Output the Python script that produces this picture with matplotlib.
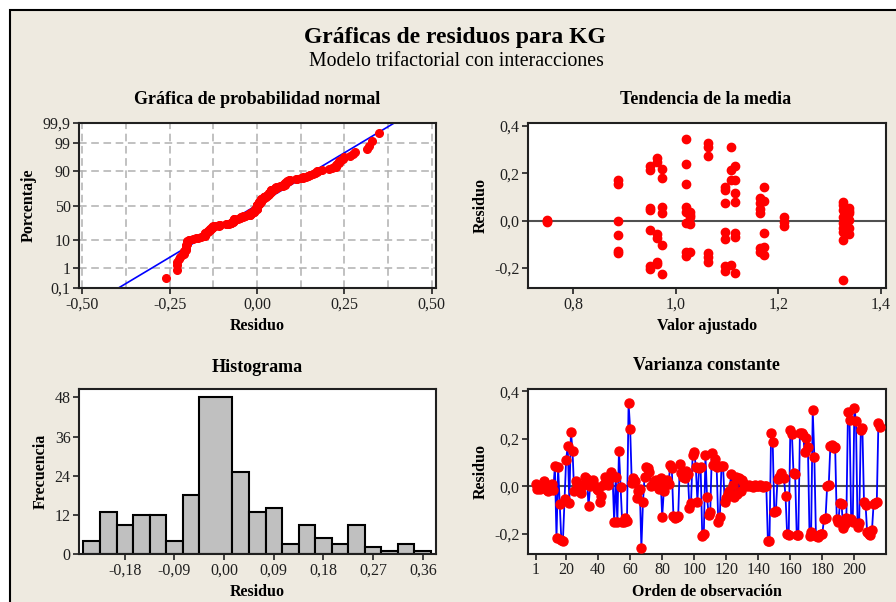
import numpy as np
import matplotlib
matplotlib.use("Agg")
import matplotlib.pyplot as plt
from matplotlib.patches import Rectangle
from statistics import NormalDist

residuos = [
    0.01, -0.01, 0.00, -0.01, -0.005, 0.02, 0.01, -0.015, -0.02, 0.00,
    0.01, -0.015, 0.085, -0.22, 0.08, -0.075, -0.225, -0.23, -0.055, 0.11,
    0.17, -0.07, 0.23, 0.15, -0.02, 0.02, 0.01, -0.02, -0.03, 0.00,
    0.01, 0.04, 0.03, -0.085, 0.00, 0.02, 0.025, 0.00, -0.01, -0.015,
    -0.065, -0.04, 0.005, 0.04, 0.02, 0.005, 0.03, 0.06, 0.045, -0.15,
    0.04, -0.15, 0.15, -0.005, -0.15, -0.15, -0.135, -0.145, 0.35, 0.24,
    0.015, 0.035, 0.02, -0.05, -0.02, -0.01, -0.26, -0.065, 0.04, 0.08,
    0.075, 0.06, 0.00, 0.005, 0.02, 0.025, 0.01, -0.01, 0.035, -0.13,
    -0.02, 0.01, 0.025, 0.01, 0.09, 0.075, -0.125, -0.135, -0.13, -0.125,
    0.095, 0.055, 0.04, 0.035, 0.065, 0.05, -0.09, -0.07, 0.13, 0.145,
    0.08, -0.065, 0.075, 0.08, -0.21, -0.2, 0.13, -0.045, -0.12, -0.11,
    0.14, 0.09, 0.115, 0.08, -0.15, -0.13, 0.085, 0.085, -0.065, -0.05,
    -0.035, -0.02, 0.05, 0.005, -0.045, 0.04, -0.035, 0.035, -0.02, 0.025,
    0.01, 0.005, 0.00, 0.005, 0.00, 0.00, -0.005, 0.005, 0.00, 0.00,
    0.005, 0.00, -0.005, 0.00, 0.00, -0.23, -0.23, 0.225, 0.185, -0.11,
    -0.105, 0.03, 0.04, 0.055, 0.04, 0.035, -0.04, -0.2, -0.205, 0.235,
    0.22, 0.055, 0.05, -0.205, -0.205, 0.225, 0.225, 0.215, 0.145, 0.205,
    0.165, -0.21, -0.195, 0.32, 0.125, -0.21, -0.215, -0.205, -0.2, -0.2,
    -0.14, -0.135, 0.00, 0.005, 0.17, 0.175, 0.16, 0.165, -0.14, -0.15,
    -0.07, -0.075, -0.175, -0.16, -0.135, 0.315, 0.28, -0.14, -0.15, 0.33,
    0.275, -0.17, -0.155, 0.235, 0.245, -0.065, -0.08, -0.195, -0.2, -0.205,
    -0.185, -0.075, -0.07, -0.065, 0.265, 0.25,
]

ajustado = [
    0.749, 0.749, 0.749,
    0.887, 0.887, 0.887, 0.887, 0.887, 0.887,
    0.950, 0.950, 0.950, 0.950, 0.950, 0.950, 0.950,
    0.963, 0.963, 0.963, 0.963, 0.963, 0.963,
    0.974, 0.974, 0.974, 0.974, 0.974, 0.974,
    1.020, 1.020, 1.020, 1.020, 1.020, 1.020, 1.020, 1.020,
    1.028, 1.028, 1.028, 1.028, 1.028,
    1.062, 1.062, 1.062, 1.062, 1.062, 1.062,
    1.096, 1.096, 1.096, 1.096, 1.096, 1.096, 1.096,
    1.108, 1.108, 1.108, 1.108,
    1.116, 1.116, 1.116, 1.116, 1.116, 1.116, 1.116,
    1.164, 1.164, 1.164, 1.164, 1.164, 1.164,
    1.172, 1.172, 1.172, 1.172, 1.172,
    1.212, 1.212, 1.212,
    1.327, 1.327, 1.327, 1.327, 1.327, 1.327, 1.327, 1.327, 1.327,
    1.337, 1.337, 1.337, 1.337, 1.337, 1.337,
]
residuo_ajuste = [
    0.003, -0.005, 0.0,
    0.17, 0.155, 0.0, -0.06, -0.13, -0.138,
    0.23, 0.214, 0.052, 0.045, -0.04, -0.194, -0.205,
    0.267, 0.25, -0.056, -0.075, -0.177, -0.185,
    0.22, 0.179, 0.056, 0.031, -0.103, -0.227,
    0.345, 0.239, 0.154, 0.059, 0.038, -0.008, -0.134, -0.149,
    0.038, 0.017, -0.014, -0.131, 0.025,
    0.327, 0.313, 0.273, -0.135, -0.152, -0.177,
    0.144, 0.13, 0.076, -0.046, -0.079, -0.194, -0.215,
    0.313, 0.214, 0.172, -0.187,
    0.231, 0.172, 0.115, 0.08, -0.054, -0.07, -0.223,
    0.094, 0.073, 0.034, 0.05, -0.117, -0.131,
    0.141, 0.085, -0.054, -0.11, -0.145,
    0.014, -0.004, -0.021,
    0.08, 0.065, 0.045, 0.017, -0.011, -0.03, -0.046, -0.084, -0.25,
    0.052, 0.031, 0.003, -0.032, -0.056, 0.04,
]

# histogram (bar edges and counts as drawn)
hist_bordes = [-0.255, -0.225, -0.195, -0.165, -0.135, -0.105, -0.075, -0.045,
               0.015, 0.045, 0.075, 0.105, 0.135, 0.165, 0.195, 0.225, 0.255,
               0.285, 0.315, 0.345, 0.375]
hist_frec = [4, 13, 9, 12, 12, 4, 18, 48, 25, 13, 14, 3, 9, 5, 3, 9, 2, 1, 3, 1]

W, H = 896, 602
BG = "#EEEAE0"
plt.rcParams["font.family"] = ["Liberation Serif", "DejaVu Serif"]

fig = plt.figure(figsize=(W / 100, H / 100), dpi=100, facecolor="white")
fig.patches.append(Rectangle((10 / W, -0.05), 1.1, 1.05 - 10 / H, transform=fig.transFigure,
                             facecolor=BG, edgecolor="black", lw=1.5, zorder=-1))


def ejes(l, t, r, b):
    ax = fig.add_axes([l / W, 1 - b / H, (r - l) / W, (b - t) / H])
    for s in ax.spines.values():
        s.set_linewidth(1.5)
        s.set_color("#202020")
    ax.tick_params(labelsize=11.5, length=4, width=1.2, colors="#202020", pad=2)
    return ax


fig.text(455 / W, 1 - 37 / H, "Gráficas de residuos para KG", ha="center", va="center",
         fontsize=17, fontweight="bold")
fig.text(456 / W, 1 - 62 / H, "Modelo trifactorial con interacciones", ha="center",
         va="center", fontsize=14.3)

# --- normal probability plot ---
ax1 = ejes(79, 123, 436, 288)
nd = NormalDist()
r = np.sort(np.array(residuos))
n = len(r)
pos = [nd.inv_cdf((i + 1 - 0.3) / (n + 0.4)) for i in range(n)]
mu, sd = np.mean(r), np.std(r, ddof=1)
zlim = nd.inv_cdf(0.999)
ax1.plot([mu - zlim * sd, mu + zlim * sd], [-zlim, zlim], color="blue", lw=1.2, zorder=2)
ax1.plot(r, pos, "o", color="red", ms=5.5, zorder=3)
ax1.set_xticks([-0.5, -0.25, 0, 0.25, 0.5], ["-0,50", "-0,25", "0,00", "0,25", "0,50"])
ax1.set_xticks(np.arange(-0.375, 0.4, 0.25), minor=True)
ax1.tick_params(which="minor", length=0)
pct = [0.1, 1, 10, 50, 90, 99, 99.9]
ax1.set_yticks([nd.inv_cdf(p / 100) for p in pct])
ax1.set_yticklabels(["0,1", "1", "10", "50", "90", "99", "99,9"])
ax1.grid(True, which="both", ls=(0, (5, 3)), color="#B0B0B0", lw=1.1)
ax1.set_xlim(-0.51, 0.512)
ax1.set_ylim(-zlim, zlim)
ax1.set_xlabel("Residuo", fontsize=11.5, fontweight="bold", labelpad=4)
ax1.set_ylabel("Porcentaje", fontsize=11.5, fontweight="bold", labelpad=4)
fig.text(257 / W, 1 - 100 / H, "Gráfica de probabilidad normal", ha="center", va="center",
         fontsize=13, fontweight="bold")

# --- residuals vs fitted ---
ax2 = ejes(528, 123, 886, 288)
ax2.axhline(0, color="#505050", lw=1.5, zorder=1)
ax2.plot(ajustado, residuo_ajuste, "o", color="red", ms=6, zorder=3)
ax2.set_xlim(0.712, 1.41)
ax2.set_ylim(-0.285, 0.413)
ax2.set_xticks([0.8, 1.0, 1.2, 1.4], ["0,8", "1,0", "1,2", "1,4"])
ax2.set_yticks([-0.2, 0.0, 0.2, 0.4], ["-0,2", "0,0", "0,2", "0,4"])
ax2.set_xlabel("Valor ajustado", fontsize=11.5, fontweight="bold", labelpad=4)
ax2.set_ylabel("Residuo", fontsize=11.5, fontweight="bold", labelpad=4)
fig.text(706 / W, 1 - 100 / H, "Tendencia de la media", ha="center", va="center",
         fontsize=13, fontweight="bold")

# --- histogram ---
ax3 = ejes(79, 389, 436, 554)
izq = np.array(hist_bordes[:-1])
anch = np.diff(hist_bordes)
ax3.bar(izq, hist_frec, width=anch, align="edge", color="#C0C0C0", edgecolor="black", lw=1.5)
ax3.set_xlim(-0.263, 0.384)
ax3.set_ylim(0, 50.6)
ax3.set_xticks([-0.18, -0.09, 0, 0.09, 0.18, 0.27, 0.36],
               ["-0,18", "-0,09", "0,00", "0,09", "0,18", "0,27", "0,36"])
ax3.set_yticks([0, 12, 24, 36, 48])
ax3.set_xlabel("Residuo", fontsize=11.5, fontweight="bold", labelpad=4)
ax3.set_ylabel("Frecuencia", fontsize=11.5, fontweight="bold", labelpad=4)
fig.text(257 / W, 1 - 367 / H, "Histograma", ha="center", va="center",
         fontsize=13, fontweight="bold")

# --- residuals vs order ---
ax4 = ejes(528, 389, 886, 554)
orden = np.arange(1, len(residuos) + 1)
ax4.axhline(0, color="#505050", lw=1.5, zorder=1)
ax4.plot(orden, residuos, "-", color="blue", lw=1.3, zorder=2)
ax4.plot(orden, residuos, "o", color="red", ms=6.5, zorder=3)
ax4.set_xlim(-3.8, 219.75)
ax4.set_ylim(-0.286, 0.41)
ax4.set_xticks([1] + list(range(20, 201, 20)))
ax4.set_yticks([-0.2, 0.0, 0.2, 0.4], ["-0,2", "0,0", "0,2", "0,4"])
ax4.set_xlabel("Orden de observación", fontsize=11.5, fontweight="bold", labelpad=4)
ax4.set_ylabel("Residuo", fontsize=11.5, fontweight="bold", labelpad=4)
fig.text(706 / W, 1 - 366 / H, "Varianza constante", ha="center", va="center",
         fontsize=13, fontweight="bold")

fig.savefig("out.png", dpi=100, facecolor=fig.get_facecolor())
